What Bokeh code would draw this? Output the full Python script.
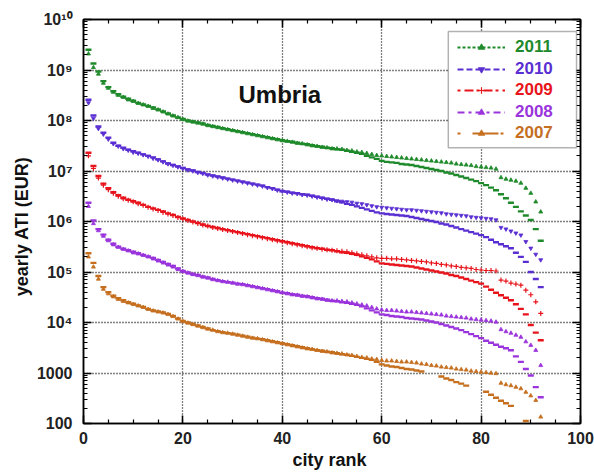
from bokeh.plotting import figure
from bokeh.models import (FixedTicker, LinearAxis, LogAxis, Legend, LegendItem,
                          BoxAnnotation, Label, CustomJSTickFormatter)
from bokeh.embed import file_html
from bokeh.resources import INLINE

# ---------------- data (log10 of yearly ATI, EUR; rank 1..92) ----------------
years = ["2011", "2010", "2009", "2008", "2007"]
ranks = list(range(1, 93))

dash_2011 = [9.40, 9.13, 8.97, 8.78, 8.66, 8.58, 8.52, 8.47, 8.43, 8.39,
             8.35, 8.32, 8.29, 8.26, 8.22, 8.18, 8.14, 8.10, 8.06, 8.03,
             8.00, 7.98, 7.96, 7.94, 7.91, 7.89, 7.87, 7.85, 7.83, 7.81,
             7.79, 7.77, 7.75, 7.73, 7.71, 7.69, 7.67, 7.65, 7.63, 7.61,
             7.59, 7.58, 7.56, 7.54, 7.53, 7.51, 7.49, 7.48, 7.46, 7.45,
             7.43, 7.42, 7.40, 7.38, 7.36, 7.34, 7.30, 7.27, 7.24, 7.20,
             7.18, 7.17, 7.16, 7.14, 7.13, 7.12, 7.10, 7.08, 7.06, 7.04,
             7.02, 7.00, 6.97, 6.95, 6.92, 6.89, 6.86, 6.83, 6.80, 6.76,
             6.72, 6.67, 6.62, 6.54, 6.46, 6.37, 6.29, 6.20, 6.12, 6.03,
             5.85, 5.62]
mark_2011 = [9.32, 9.05, 8.92, 8.74, 8.64, 8.56, 8.50, 8.46, 8.41, 8.38,
             8.34, 8.31, 8.28, 8.24, 8.21, 8.17, 8.13, 8.09, 8.06, 8.02,
             7.99, 7.97, 7.95, 7.93, 7.90, 7.88, 7.86, 7.84, 7.82, 7.80,
             7.78, 7.76, 7.74, 7.72, 7.70, 7.68, 7.66, 7.64, 7.62, 7.60,
             7.59, 7.57, 7.55, 7.54, 7.52, 7.50, 7.49, 7.47, 7.46, 7.44,
             7.44, 7.43, 7.41, 7.40, 7.38, 7.37, 7.35, 7.33, 7.31, 7.30,
             7.29, 7.28, 7.27, 7.26, 7.25, 7.24, 7.23, 7.22, 7.21, 7.20,
             7.19, 7.18, 7.17, 7.16, 7.14, 7.13, 7.12, 7.11, 7.09, 7.08,
             7.07, 7.06, 7.04, 6.87, 6.84, 6.82, 6.80, 6.76, 6.66, 6.56,
             6.39, 6.19]
dash_2010 = [8.41, 8.10, 7.88, 7.76, 7.66, 7.56, 7.50, 7.46, 7.42, 7.39,
             7.36, 7.33, 7.30, 7.27, 7.23, 7.19, 7.15, 7.12, 7.09, 7.06,
             7.03, 7.01, 6.98, 6.96, 6.93, 6.91, 6.89, 6.87, 6.85, 6.83,
             6.81, 6.79, 6.77, 6.75, 6.73, 6.71, 6.68, 6.66, 6.63, 6.60,
             6.59, 6.57, 6.56, 6.54, 6.53, 6.51, 6.49, 6.47, 6.45, 6.43,
             6.40, 6.38, 6.35, 6.33, 6.30, 6.27, 6.24, 6.21, 6.18, 6.16,
             6.15, 6.14, 6.13, 6.12, 6.11, 6.09, 6.07, 6.05, 6.03, 6.01,
             5.99, 5.96, 5.94, 5.91, 5.88, 5.85, 5.82, 5.79, 5.76, 5.73,
             5.69, 5.64, 5.59, 5.55, 5.51, 5.47, 5.38, 5.30, 5.20, 5.00,
             4.86, 4.70]
mark_2010 = [8.35, 8.04, 7.84, 7.73, 7.63, 7.54, 7.49, 7.44, 7.41, 7.37,
             7.35, 7.32, 7.29, 7.25, 7.22, 7.18, 7.14, 7.11, 7.08, 7.05,
             7.02, 7.00, 6.97, 6.95, 6.92, 6.90, 6.88, 6.86, 6.84, 6.82,
             6.80, 6.78, 6.76, 6.74, 6.72, 6.70, 6.67, 6.65, 6.62, 6.60,
             6.58, 6.56, 6.55, 6.53, 6.52, 6.50, 6.48, 6.46, 6.44, 6.43,
             6.41, 6.40, 6.39, 6.38, 6.36, 6.35, 6.33, 6.31, 6.29, 6.28,
             6.27, 6.26, 6.25, 6.24, 6.23, 6.23, 6.22, 6.21, 6.20, 6.19,
             6.18, 6.17, 6.15, 6.14, 6.13, 6.12, 6.11, 6.09, 6.08, 6.07,
             6.06, 6.05, 6.03, 5.88, 5.85, 5.81, 5.77, 5.73, 5.60, 5.47,
             5.35, 5.24]
dash_2009 = [7.36, 7.10, 6.90, 6.75, 6.66, 6.58, 6.52, 6.47, 6.43, 6.40,
             6.37, 6.33, 6.29, 6.26, 6.23, 6.20, 6.16, 6.13, 6.09, 6.06,
             6.03, 6.00, 5.97, 5.94, 5.91, 5.89, 5.87, 5.85, 5.83, 5.81,
             5.79, 5.77, 5.75, 5.73, 5.71, 5.69, 5.67, 5.65, 5.63, 5.61,
             5.59, 5.57, 5.55, 5.53, 5.51, 5.49, 5.47, 5.46, 5.44, 5.43,
             5.41, 5.39, 5.38, 5.36, 5.34, 5.31, 5.28, 5.25, 5.21, 5.17,
             5.16, 5.15, 5.14, 5.13, 5.12, 5.11, 5.09, 5.07, 5.05, 5.03,
             5.01, 4.99, 4.97, 4.94, 4.92, 4.89, 4.86, 4.83, 4.80, 4.77,
             4.71, 4.65, 4.59, 4.54, 4.49, 4.44, 4.36, 4.27, 4.16, 3.95,
             3.80, 3.65]
mark_2009 = [7.30, 7.05, 6.86, 6.72, 6.63, 6.56, 6.50, 6.45, 6.42, 6.39,
             6.35, 6.32, 6.28, 6.25, 6.22, 6.18, 6.15, 6.12, 6.08, 6.05,
             6.02, 5.99, 5.96, 5.93, 5.91, 5.88, 5.86, 5.84, 5.82, 5.80,
             5.78, 5.76, 5.74, 5.72, 5.70, 5.68, 5.66, 5.64, 5.62, 5.60,
             5.58, 5.56, 5.54, 5.52, 5.50, 5.48, 5.47, 5.45, 5.44, 5.43,
             5.42, 5.41, 5.40, 5.38, 5.36, 5.34, 5.32, 5.30, 5.28, 5.27,
             5.27, 5.26, 5.26, 5.25, 5.24, 5.23, 5.22, 5.21, 5.20, 5.18,
             5.17, 5.15, 5.14, 5.12, 5.11, 5.09, 5.08, 5.07, 5.05, 5.04,
             5.03, 5.03, 5.02, 4.84, 4.82, 4.78, 4.76, 4.74, 4.64, 4.55,
             4.41, 4.18]
dash_2008 = [6.37, 6.02, 5.85, 5.74, 5.64, 5.56, 5.50, 5.46, 5.43, 5.40,
             5.37, 5.34, 5.31, 5.28, 5.24, 5.20, 5.16, 5.12, 5.07, 5.02,
             4.99, 4.96, 4.94, 4.91, 4.89, 4.86, 4.84, 4.82, 4.80, 4.79,
             4.77, 4.76, 4.74, 4.72, 4.70, 4.68, 4.66, 4.64, 4.62, 4.59,
             4.58, 4.56, 4.55, 4.53, 4.52, 4.50, 4.48, 4.47, 4.45, 4.43,
             4.42, 4.40, 4.39, 4.37, 4.35, 4.32, 4.28, 4.24, 4.20, 4.16,
             4.15, 4.13, 4.12, 4.11, 4.09, 4.08, 4.07, 4.06, 4.04, 4.02,
             4.00, 3.97, 3.94, 3.91, 3.88, 3.85, 3.81, 3.77, 3.73, 3.69,
             3.64, 3.60, 3.56, 3.52, 3.49, 3.45, 3.33, 3.22, 3.08, 2.95,
             2.72, 2.52]
mark_2008 = [6.30, 5.96, 5.82, 5.71, 5.62, 5.54, 5.49, 5.45, 5.42, 5.38,
             5.36, 5.33, 5.30, 5.26, 5.22, 5.18, 5.14, 5.10, 5.05, 5.01,
             4.98, 4.95, 4.93, 4.90, 4.88, 4.85, 4.83, 4.81, 4.80, 4.78,
             4.76, 4.75, 4.73, 4.71, 4.69, 4.67, 4.65, 4.63, 4.61, 4.59,
             4.57, 4.55, 4.54, 4.52, 4.51, 4.49, 4.47, 4.46, 4.44, 4.43,
             4.43, 4.42, 4.41, 4.39, 4.37, 4.35, 4.33, 4.30, 4.27, 4.25,
             4.24, 4.24, 4.23, 4.22, 4.21, 4.21, 4.20, 4.19, 4.18, 4.17,
             4.16, 4.15, 4.13, 4.12, 4.11, 4.10, 4.09, 4.07, 4.06, 4.05,
             4.04, 4.03, 4.01, 3.86, 3.82, 3.79, 3.75, 3.71, 3.62, 3.55,
             3.45, 3.15]
dash_2007 = [5.37, 5.18, 4.92, 4.70, 4.60, 4.53, 4.48, 4.44, 4.40, 4.37,
             4.34, 4.31, 4.27, 4.24, 4.22, 4.20, 4.17, 4.13, 4.08, 4.03,
             4.00, 3.97, 3.94, 3.91, 3.88, 3.85, 3.83, 3.81, 3.79, 3.78,
             3.76, 3.74, 3.72, 3.70, 3.68, 3.67, 3.65, 3.63, 3.61, 3.59,
             3.57, 3.55, 3.53, 3.51, 3.49, 3.47, 3.45, 3.44, 3.42, 3.41,
             3.39, 3.37, 3.36, 3.34, 3.32, 3.30, 3.28, 3.26, 3.22, 3.17,
             3.15, 3.13, 3.12, 3.10, 3.08, 3.07, 3.05, 3.03, None, None,
             None, 2.93, 2.89, 2.86, 2.82, 2.79, 2.75, None, None, None,
             2.63, 2.57, 2.51, 2.45, 2.40, 2.35, None, None, 2.05, None,
             None, None]
mark_2007 = [5.30, 5.10, 4.86, 4.66, 4.57, 4.51, 4.46, 4.42, 4.39, 4.36,
             4.33, 4.30, 4.26, 4.23, 4.21, 4.19, 4.16, 4.12, 4.07, 4.02,
             3.99, 3.96, 3.93, 3.90, 3.87, 3.85, 3.82, 3.80, 3.79, 3.77,
             3.75, 3.73, 3.71, 3.69, 3.68, 3.66, 3.64, 3.62, 3.60, 3.58,
             3.56, 3.54, 3.52, 3.50, 3.48, 3.47, 3.45, 3.43, 3.42, 3.40,
             3.39, 3.38, 3.36, 3.35, 3.33, 3.31, 3.30, 3.28, 3.27, 3.25,
             3.24, 3.24, 3.23, 3.22, 3.22, 3.21, 3.20, 3.18, 3.17, 3.15,
             3.14, 3.12, 3.11, 3.10, 3.08, 3.07, 3.06, 3.04, 3.03, 3.02,
             3.01, 3.00, 2.99, 2.80, 2.77, 2.75, 2.72, 2.69, 2.62, 2.55,
             2.46, 2.13]

y_ticks = [1e2, 1e3, 1e4, 1e5, 1e6, 1e7, 1e8, 1e9, 1e10]
y_tick_labels = ["100", "1000", "10\u2074", "10\u2075", "10\u2076", "10\u2077",
                 "10\u2078", "10\u2079", "10\u00b9\u2070"]
x_ticks = [0, 20, 40, 60, 80, 100]

# ---------------- styling ----------------
FONT = "Liberation Sans"
colors = {"2011": "#1f8a2b", "2010": "#5a2fd2", "2009": "#e8141c",
          "2008": "#9a34dc", "2007": "#c56f1f"}
markers = {"2011": "triangle", "2010": "inverted_triangle", "2009": "cross",
           "2008": "triangle", "2007": "triangle"}
dashes = {"2011": "3 2", "2010": "6 3", "2009": "3 4 9 3",
          "2008": "7 4 3 4", "2007": "3 12 26 2"}
series = {"2011": (dash_2011, mark_2011), "2010": (dash_2010, mark_2010),
          "2009": (dash_2009, mark_2009), "2008": (dash_2008, mark_2008),
          "2007": (dash_2007, mark_2007)}

p = figure(width=594, height=475, x_range=(0, 100), y_range=(1e2, 1e10),
           y_axis_type="log", output_backend="svg", toolbar_location=None,
           min_border_left=83, min_border_right=14, min_border_top=19,
           min_border_bottom=52)
p.outline_line_color = "black"
p.outline_line_width = 1.5
p.background_fill_color = "white"
p.border_fill_color = "white"

minor_y = [m * 10 ** k for k in range(2, 10) for m in range(2, 10)]
yt = FixedTicker(ticks=y_ticks, minor_ticks=minor_y)
xt = FixedTicker(ticks=x_ticks, minor_ticks=[v for v in range(0, 101, 5)])

def style_axis(ax, labels=True):
    ax.major_tick_in = 8
    ax.major_tick_out = 0
    ax.minor_tick_in = 4
    ax.minor_tick_out = 0
    ax.axis_line_width = 1.5
    ax.major_tick_line_width = 1.5
    ax.minor_tick_line_width = 1.2
    ax.axis_line_color = "black"
    ax.major_tick_line_color = "black"
    ax.minor_tick_line_color = "black"
    if labels:
        ax.major_label_text_font = FONT
        ax.major_label_text_font_style = "bold"
        ax.major_label_text_font_size = "16px"
        ax.major_label_text_color = "#222222"
        ax.axis_label_text_font = FONT
        ax.axis_label_text_font_style = "bold"
        ax.axis_label_text_font_size = "18px"
        ax.axis_label_text_color = "#111111"
    else:
        ax.formatter = CustomJSTickFormatter(code="return ''")
        ax.major_label_standoff = 0

p.xaxis.ticker = xt
p.yaxis.ticker = yt
p.yaxis.major_label_overrides = {t: s for t, s in zip(y_ticks, y_tick_labels)}
style_axis(p.xaxis[0])
style_axis(p.yaxis[0])
p.xaxis.axis_label = "city  rank"
p.yaxis.axis_label = "yearly  ATI  (EUR)"
p.xaxis.major_label_standoff = 8
p.xaxis.axis_label_standoff = 3
p.yaxis.major_label_standoff = 11
p.yaxis.axis_label_standoff = 2

top_ax = LinearAxis(ticker=xt)
right_ax = LogAxis(ticker=yt)
style_axis(top_ax, labels=False)
style_axis(right_ax, labels=False)
p.add_layout(top_ax, "above")
p.add_layout(right_ax, "right")

for g in (p.xgrid[0], p.ygrid[0]):
    g.grid_line_color = "black"
    g.grid_line_dash = "1 2"
    g.grid_line_width = 1.3
p.xgrid.ticker = FixedTicker(ticks=[20, 40, 60, 80])
p.ygrid.ticker = FixedTicker(ticks=y_ticks[1:-1])

legend_parts = {}
for yr in years:
    d_vals, m_vals = series[yr]
    c = colors[yr]
    dx = [r for r, v in zip(ranks, d_vals) if v is not None]
    dy = [10 ** v for v in d_vals if v is not None]
    mx = [r for r, v in zip(ranks, m_vals) if v is not None]
    my = [10 ** v for v in m_vals if v is not None]
    p.scatter(x=dx, y=dy, marker="dash", size=6, line_color=c, line_width=2.4)
    is_cross = markers[yr] == "cross"
    mr = p.scatter(x=mx, y=my, marker=markers[yr], size=5 if is_cross else 4,
                   fill_color=c, line_color=c, line_width=1.2 if is_cross else 0.8)
    # line style used only for the legend sample (hidden in the plot area)
    lr = p.line(x=dx, y=dy, line_color=c, line_width=2, line_dash=dashes[yr])
    lr.visible = False
    legend_parts[yr] = (lr, mr)

# legend frame
box = BoxAnnotation(left=73.4, right=99.2, top=10 ** 9.76, bottom=10 ** 7.46,
                    fill_color="white", fill_alpha=1.0, line_color="black",
                    line_width=1.5, level="annotation")
p.add_layout(box)

entry_bottoms = [366, 344, 323, 301, 280]
for yr, vy in zip(years, entry_bottoms):
    lr, mr = legend_parts[yr]
    lg = Legend(items=[LegendItem(label=yr, renderers=[lr, mr])],
                location=(374, vy), padding=0, margin=0, spacing=0,
                glyph_width=48, glyph_height=16, label_height=16,
                label_standoff=10, border_line_alpha=0,
                background_fill_alpha=0, label_text_color=colors[yr],
                label_text_font=FONT, label_text_font_style="bold",
                label_text_font_size="17px")
    p.add_layout(lg)

p.add_layout(Label(x=39.5, y=3.2e8, text="Umbria", text_align="center",
                   text_baseline="middle", text_font=FONT,
                   text_font_style="bold", text_font_size="24px",
                   text_color="#111111"))

open("out.html", "w").write(file_html(p, INLINE))
